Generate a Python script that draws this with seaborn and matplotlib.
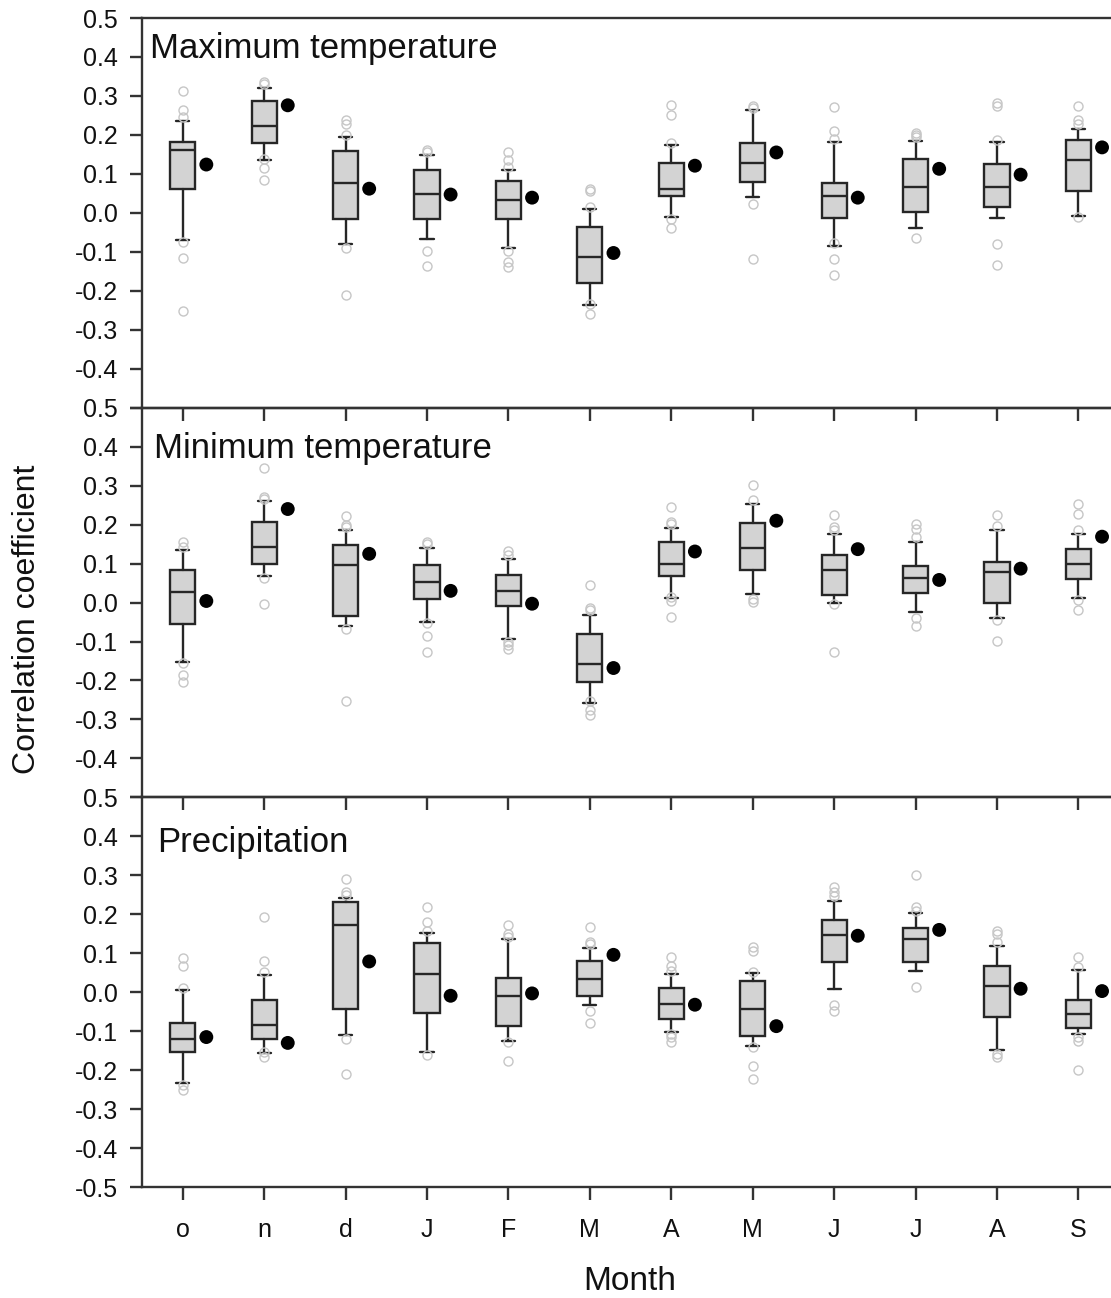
import numpy as np
import pandas as pd
import matplotlib
matplotlib.use("Agg")
import matplotlib.pyplot as plt
import seaborn as sns

# ---------------------------------------------------------------------------
# Data: per-month box statistics of correlation coefficients (q1, median, q3,
# whisker ends), individual outliers, and the overall (filled dot) value.
# ---------------------------------------------------------------------------
months = ["o", "n", "d", "J", "F", "M", "A", "M", "J", "J", "A", "S"]
ytick_values = [-0.5, -0.4, -0.3, -0.2, -0.1, 0.0, 0.1, 0.2, 0.3, 0.4, 0.5]
ytick_labels = ["-0.5", "-0.4", "-0.3", "-0.2", "-0.1", "0.0",
                "0.1", "0.2", "0.3", "0.4", "0.5"]

# Maximum temperature
tmax_whislo = [-0.070, 0.135, -0.081, -0.066, -0.089, -0.237, -0.011, 0.041, -0.084, -0.038, -0.013, -0.007]
tmax_q1     = [0.060, 0.179, -0.015, -0.015, -0.015, -0.179, 0.044, 0.078, -0.012, 0.003, 0.016, 0.057]
tmax_med    = [0.162, 0.222, 0.077, 0.048, 0.034, -0.114, 0.061, 0.129, 0.043, 0.067, 0.066, 0.136]
tmax_q3     = [0.183, 0.288, 0.159, 0.109, 0.081, -0.036, 0.127, 0.180, 0.077, 0.137, 0.126, 0.188]
tmax_whishi = [0.235, 0.321, 0.195, 0.149, 0.111, 0.009, 0.173, 0.263, 0.182, 0.184, 0.183, 0.216]
tmax_dot    = [0.124, 0.276, 0.062, 0.047, 0.039, -0.103, 0.121, 0.155, 0.039, 0.113, 0.098, 0.168]
tmax_fliers = [
    [0.312, 0.265, 0.246, -0.075, -0.117, -0.251],
    [0.337, 0.331, 0.139, 0.115, 0.085],
    [0.237, 0.229, 0.201, -0.091, -0.212],
    [0.160, 0.156, -0.097, -0.136],
    [0.156, 0.135, 0.118, -0.097, -0.125, -0.138],
    [0.062, 0.056, 0.015, -0.234, -0.259],
    [0.278, 0.251, 0.179, -0.015, -0.038],
    [0.273, 0.270, 0.022, -0.119],
    [0.271, 0.209, 0.190, -0.078, -0.119, -0.160],
    [0.205, 0.199, 0.195, -0.065],
    [0.282, 0.273, 0.188, -0.081, -0.134],
    [0.274, 0.237, 0.227, -0.010],
]

# Minimum temperature
tmin_whislo = [-0.153, 0.067, -0.061, -0.050, -0.094, -0.259, 0.011, 0.022, -0.001, -0.025, -0.040, 0.011]
tmin_q1     = [-0.055, 0.098, -0.034, 0.009, -0.010, -0.205, 0.067, 0.084, 0.020, 0.024, -0.001, 0.061]
tmin_med    = [0.028, 0.142, 0.096, 0.054, 0.030, -0.157, 0.098, 0.140, 0.083, 0.063, 0.078, 0.099]
tmin_q3     = [0.084, 0.206, 0.147, 0.097, 0.071, -0.080, 0.156, 0.203, 0.122, 0.095, 0.104, 0.137]
tmin_whishi = [0.135, 0.260, 0.185, 0.140, 0.111, -0.031, 0.192, 0.254, 0.177, 0.156, 0.186, 0.177]
tmin_dot    = [0.004, 0.240, 0.125, 0.030, -0.003, -0.168, 0.131, 0.210, 0.137, 0.058, 0.087, 0.169]
tmin_fliers = [
    [0.156, 0.143, -0.155, -0.185, -0.205],
    [0.344, 0.271, 0.267, 0.064, -0.003],
    [0.222, 0.199, 0.195, -0.068, -0.253],
    [0.156, 0.150, -0.053, -0.087, -0.126],
    [0.131, 0.122, -0.100, -0.108, -0.119],
    [0.044, -0.015, -0.020, -0.253, -0.275, -0.288],
    [0.246, 0.207, 0.201, 0.015, 0.003, -0.036],
    [0.301, 0.263, 0.009, 0.001],
    [0.224, 0.195, 0.186, -0.003, -0.127],
    [0.201, 0.190, 0.167, -0.040, -0.060],
    [0.224, 0.196, -0.044, -0.098],
    [0.253, 0.226, 0.186, 0.007, -0.019],
]

# Precipitation
prec_whislo = [-0.234, -0.156, -0.110, -0.153, -0.125, -0.032, -0.101, -0.137, 0.009, 0.055, -0.148, -0.108]
prec_q1     = [-0.154, -0.121, -0.044, -0.052, -0.086, -0.010, -0.068, -0.111, 0.077, 0.077, -0.064, -0.092]
prec_med    = [-0.119, -0.084, 0.172, 0.048, -0.010, 0.033, -0.030, -0.044, 0.147, 0.137, 0.017, -0.056]
prec_q3     = [-0.078, -0.020, 0.231, 0.127, 0.037, 0.079, 0.010, 0.030, 0.185, 0.164, 0.067, -0.020]
prec_whishi = [0.006, 0.045, 0.243, 0.151, 0.136, 0.113, 0.047, 0.049, 0.233, 0.204, 0.119, 0.058]
prec_dot    = [-0.115, -0.130, 0.079, -0.009, -0.003, 0.096, -0.032, -0.087, 0.145, 0.160, 0.009, 0.003]
prec_fliers = [
    [0.087, 0.068, 0.011, -0.239, -0.250],
    [0.194, 0.079, 0.053, -0.154, -0.165],
    [0.290, 0.256, 0.249, -0.121, -0.209],
    [0.218, 0.181, 0.158, -0.162],
    [0.173, 0.149, 0.141, -0.128, -0.177],
    [0.167, 0.130, 0.124, -0.049, -0.079],
    [0.090, 0.068, 0.055, -0.107, -0.115, -0.128],
    [0.115, 0.107, 0.053, -0.141, -0.188, -0.222],
    [0.269, 0.256, 0.247, -0.034, -0.047],
    [0.300, 0.218, 0.209, 0.013],
    [0.158, 0.149, 0.128, -0.158, -0.166],
    [0.091, 0.064, -0.115, -0.125, -0.199],
]

panels = [
    ("Maximum temperature", tmax_whislo, tmax_q1, tmax_med, tmax_q3, tmax_whishi, tmax_fliers, tmax_dot),
    ("Minimum temperature", tmin_whislo, tmin_q1, tmin_med, tmin_q3, tmin_whishi, tmin_fliers, tmin_dot),
    ("Precipitation", prec_whislo, prec_q1, prec_med, prec_q3, prec_whishi, prec_fliers, prec_dot),
]

# ---------------------------------------------------------------------------
# Style
# ---------------------------------------------------------------------------
sns.set_theme(style="ticks")
plt.rcParams["font.family"] = ["Liberation Sans", "DejaVu Sans"]
plt.rcParams["axes.unicode_minus"] = False

dark = "#262626"
box_fill = "#d3d3d3"
flier_col = "#c6c6c6"
lw = 1.7
text_col = "#111111"

W, H = 1111, 1298
fig = plt.figure(figsize=(W / 100, H / 100), dpi=100)
fig.patch.set_facecolor("white")

left = 142 / W
width = 1.0 - left
top = 1.0 - 18 / H
ph = 389.7 / H

# title placement (x, baseline y) in axes fraction, per panel
title_pos = [(0.0083, 0.897), (0.0124, 0.872), (0.0155, 0.859)]

positions = np.arange(len(months))

for i, (title, wlo, q1, med, q3, whi, fl, dot) in enumerate(panels):
    ax = fig.add_axes([left, top - ph * (i + 1), width, ph])
    ax.patch.set_visible(False)

    stats = [
        dict(whislo=wlo[k], q1=q1[k], med=med[k], q3=q3[k], whishi=whi[k], fliers=fl[k])
        for k in range(len(months))
    ]
    ax.bxp(
        stats,
        positions=positions,
        widths=0.31,
        capwidths=0.16,
        patch_artist=True,
        manage_ticks=False,
        boxprops=dict(facecolor=box_fill, edgecolor=dark, linewidth=lw),
        medianprops=dict(color=dark, linewidth=lw),
        whiskerprops=dict(color=dark, linewidth=lw),
        capprops=dict(color=dark, linewidth=lw),
        flierprops=dict(marker="o", markerfacecolor="none", markeredgecolor=flier_col,
                        markersize=6.5, markeredgewidth=1.0),
        zorder=3,
    )

    dots = pd.DataFrame({"x": positions + 0.29, "r": dot})
    sns.scatterplot(data=dots, x="x", y="r", ax=ax, color="black", s=100,
                    edgecolor="none", linewidth=0, zorder=5, legend=False)

    ax.set_xlim(-0.5, 11.4)
    ax.set_ylim(-0.5, 0.5)
    ax.set_xlabel("")
    ax.set_ylabel("")

    labels = list(ytick_labels)
    if i < 2:
        labels[0] = ""
    ax.set_yticks(ytick_values)
    ax.set_yticklabels(labels)
    ax.set_xticks(positions)
    ax.set_xticklabels(months if i == 2 else [])

    for side in ("left", "bottom", "top"):
        ax.spines[side].set_visible(True)
        ax.spines[side].set_color("#333333")
        ax.spines[side].set_linewidth(lw)
    ax.spines["right"].set_visible(False)

    ax.tick_params(axis="both", direction="out", length=9, width=lw, color="#333333",
                   labelsize=18, labelcolor=text_col, left=True, bottom=True,
                   top=False, right=False)
    ax.tick_params(axis="y", pad=8.5)
    ax.tick_params(axis="x", pad=13)

    tx, ty = title_pos[i]
    ax.text(tx, ty, title, transform=ax.transAxes, ha="left", va="baseline",
            fontsize=25, color=text_col)

fig.text(27 / W, 1 - 619 / H, "Correlation coefficient", rotation=90,
         ha="center", va="center", fontsize=23, color=text_col)
fig.text(630 / W, 1 - 1281 / H, "Month", ha="center", va="center",
         fontsize=24, color=text_col)

fig.savefig("out.png", dpi=100)
